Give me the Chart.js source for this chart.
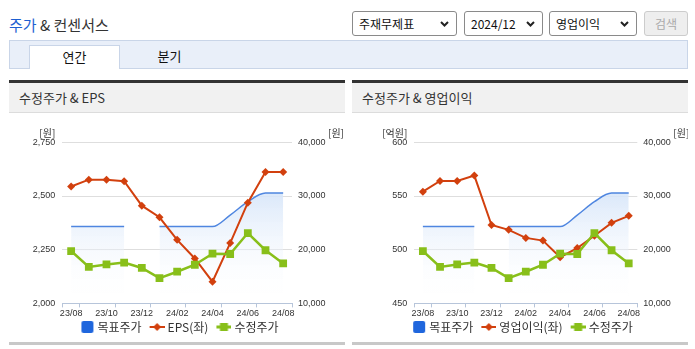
<!DOCTYPE html>
<html>
<head>
<meta charset="utf-8">
<script src="https://cdn.jsdelivr.net/npm/chart.js@4"></script>
<style>
  body { margin: 0; background: #fff; width: 695px; height: 349px; position: relative; overflow: hidden;
         font-family: "Noto Sans CJK KR", "Noto Sans", sans-serif; color: #333; }
  .abs { position: absolute; }
  #title { left: 9px; top: 14px; font-size: 15px; line-height: 22px; color: #333; }
  #title b { font-weight: normal; color: #1d5fd1; }
  .sel { position: absolute; top: 11px; height: 25px; box-sizing: border-box; border: 1px solid #8a8a8a;
         border-radius: 3px; background: #fff; font-size: 12px; line-height: 23px; padding-left: 6px; color: #111; }
  .sel svg { position: absolute; right: 7px; top: 9px; }
  #btn { left: 644px; top: 11px; width: 44px; height: 25px; box-sizing: border-box; border: 1px solid #ccc;
         border-radius: 3px; background: #eee; color: #aaa; font-size: 12px; line-height: 23px; text-align: center; }
  #tabbar { left: 9px; top: 40px; width: 679px; height: 29px; box-sizing: border-box; background: #e9eff9;
            border: 1px solid #c9d5e8; }
  #tab1 { left: 29px; top: 45px; width: 91px; height: 24px; box-sizing: border-box; background: #fff;
          border: 1px solid #c9d5e8; border-bottom: none; font-size: 13px; line-height: 22px; text-align: center; color: #111; }
  #tab2 { left: 124px; top: 45px; width: 91px; height: 24px; font-size: 13px; line-height: 22px; text-align: center; color: #111; }
  .panel { position: absolute; top: 80px; width: 336px; height: 266px; }
  .phead { position: absolute; left: 0; top: 0; width: 100%; height: 33px; box-sizing: border-box;
           border-top: 3px solid #333; background: #f1f1f1; border-bottom: 1px solid #dcdcdc;
           font-size: 13px; line-height: 29px; padding-left: 10px; color: #333; }
  .pfoot { position: absolute; left: 0; top: 262px; width: 100%; height: 3px; background: #c8c8c8; }
  .panel canvas { position: absolute; left: 0; top: 33px; }
</style>
</head>
<body>
<div id="title" class="abs"><b>주가</b> &amp; 컨센서스</div>

<div class="sel" style="left:352px;width:105px">주재무제표<svg width="9" height="6"><polyline points="1,1 4.5,4.5 8,1" fill="none" stroke="#222" stroke-width="2"/></svg></div>
<div class="sel" style="left:464px;width:79px">2024/12<svg width="9" height="6"><polyline points="1,1 4.5,4.5 8,1" fill="none" stroke="#222" stroke-width="2"/></svg></div>
<div class="sel" style="left:549px;width:88px">영업이익<svg width="9" height="6"><polyline points="1,1 4.5,4.5 8,1" fill="none" stroke="#222" stroke-width="2"/></svg></div>
<div id="btn" class="abs">검색</div>

<div id="tabbar" class="abs"></div>
<div id="tab1" class="abs">연간</div>
<div id="tab2" class="abs">분기</div>

<div class="panel" style="left:9px">
  <div class="phead">수정주가 &amp; EPS</div>
  <canvas id="chartEps" width="336" height="230"></canvas>
  <div class="pfoot"></div>
</div>
<div class="panel" style="left:352px">
  <div class="phead">수정주가 &amp; 영업이익</div>
  <canvas id="chartOp" width="336" height="230"></canvas>
  <div class="pfoot"></div>
</div>

<script>
// data
const months = ['23/08', '23/09', '23/10', '23/11', '23/12', '24/01', '24/02', '24/03', '24/04', '24/05', '24/06', '24/07', '24/08']
const targetPrice = [24300, 24300, 24300, 24300, null, 24300, 24300, 24300, 24300, 26450, 28950, 30550, 30550]
const adjPrice = [19750, 16800, 17250, 17600, 16600, 14700, 15900, 17200, 19250, 19200, 23100, 19900, 17450]
const eps = [2544, 2576, 2576, 2569, 2455, 2401, 2296, 2209, 2101, 2281, 2469, 2612, 2612]
const opIncome = [554, 564, 564, 569, 523, 518.5, 511, 508.5, 493, 501.5, 513, 525, 531.5]
const epsTicks = [2000, 2250, 2500, 2750]
const opTicks = [450, 500, 550, 600]
const priceTicks = [10000, 20000, 30000, 40000]

const BLUE = '#4f86e0'
const RED = '#d2400e'
const GREEN = '#88bf1a'

Chart.defaults.font.family = '"Liberation Sans", "Noto Sans CJK KR", sans-serif'
Chart.defaults.color = '#333'

// legend icons (drawn a bit to the right inside a wider canvas)
function icon(kind) {
    const c = document.createElement('canvas')
    c.width = 22
    c.height = 12
    const g = c.getContext('2d')
    if (kind === 'box') {
        g.fillStyle = '#1f66dd'
        g.beginPath()
        g.roundRect(9, 0, 12, 12, 2)
        g.fill()
    } else if (kind === 'diamond') {
        g.fillStyle = RED
        g.fillRect(7, 5, 15, 2)
        g.beginPath()
        g.moveTo(14.5, 2); g.lineTo(18.5, 6); g.lineTo(14.5, 10); g.lineTo(10.5, 6)
        g.fill()
    } else {
        g.fillStyle = GREEN
        g.fillRect(7, 4.5, 15, 3)
        g.fillRect(10.5, 2, 8, 8)
    }
    return c
}
const icons = [icon('box'), icon('diamond'), icon('square')]

// "[원]" unit labels above the axes
const unitLabels = {
    id: 'unitLabels',
    afterDraw(chart, args, opts) {
        const { ctx, chartArea: a } = chart
        ctx.save()
        ctx.font = '10px "Noto Sans CJK KR"'
        ctx.fillStyle = '#333'
        ctx.textBaseline = 'middle'
        ctx.textAlign = 'right'
        ctx.fillText(opts.left, a.left - 7, a.top - 9)
        ctx.textAlign = 'left'
        ctx.fillText(opts.right, a.right + 36, a.top - 9)
        ctx.restore()
    }
}

function makeChart(id, leftData, leftName, leftTicks, leftUnit, leftWidth, rightWidth) {
    new Chart(document.getElementById(id), {
        type: 'line',
        data: {
            labels: months,
            datasets: [
                {
                    label: '목표주가',
                    data: targetPrice,
                    yAxisID: 'yR',
                    order: 3,
                    borderColor: BLUE,
                    borderWidth: 1.5,
                    pointRadius: 0,
                    cubicInterpolationMode: 'monotone',
                    spanGaps: false,
                    fill: 'start',
                    backgroundColor: (ctx) => {
                        const a = ctx.chart.chartArea
                        if (!a) return 'rgba(220,233,248,0.8)'
                        const gr = ctx.chart.ctx.createLinearGradient(0, a.top + 50, 0, a.bottom)
                        gr.addColorStop(0, 'rgba(214,229,249,0.9)')
                        gr.addColorStop(1, 'rgba(255,255,255,0)')
                        return gr
                    }
                },
                {
                    label: leftName,
                    data: leftData,
                    yAxisID: 'yL',
                    order: 2,
                    borderColor: RED,
                    backgroundColor: RED,
                    borderWidth: 2,
                    pointStyle: 'rectRot',
                    pointRadius: 4,
                    pointBorderWidth: 0,
                    tension: 0
                },
                {
                    label: '수정주가',
                    data: adjPrice,
                    yAxisID: 'yR',
                    order: 1,
                    borderColor: GREEN,
                    backgroundColor: GREEN,
                    borderWidth: 2.5,
                    pointStyle: 'rect',
                    pointRadius: 5.5,
                    pointBorderWidth: 0,
                    tension: 0
                }
            ]
        },
        options: {
            responsive: false,
            animation: false,
            layout: { padding: { top: 29.3, left: 0, right: 0, bottom: 0 } },
            scales: {
                x: {
                    offset: true,
                    grid: {
                        offset: true,
                        drawOnChartArea: false,
                        tickLength: 4,
                        tickColor: (ctx) => (ctx.index === undefined || ctx.index === 0 || ctx.index % 2 === 1) ? '#b7c5da' : 'rgba(0,0,0,0)'
                    },
                    border: { color: '#b7c5da' },
                    ticks: {
                        autoSkip: false,
                        maxRotation: 0,
                        padding: 1,
                        font: { size: 9 },
                        callback: function (v, i) { return i % 2 ? '' : this.getLabelForValue(v) }
                    },
                    afterFit: (s) => { s.height = 13.6 }
                },
                yL: {
                    position: 'left',
                    min: leftTicks[0],
                    max: leftTicks[leftTicks.length - 1],
                    afterBuildTicks: (s) => { s.ticks = leftTicks.map(v => ({ value: v })) },
                    grid: { color: '#dedede', drawTicks: false },
                    border: { display: false },
                    ticks: { padding: 7, font: { size: 9 } },
                    afterFit: (s) => { s.width = leftWidth }
                },
                yR: {
                    position: 'right',
                    min: priceTicks[0],
                    max: priceTicks[priceTicks.length - 1],
                    afterBuildTicks: (s) => { s.ticks = priceTicks.map(v => ({ value: v })) },
                    grid: { drawOnChartArea: false, drawTicks: false },
                    border: { display: false },
                    ticks: { padding: 6, font: { size: 9 } },
                    afterFit: (s) => { s.width = rightWidth }
                }
            },
            plugins: {
                legend: {
                    position: 'bottom',
                    labels: {
                        usePointStyle: true,
                        pointStyleWidth: 16,
                        padding: 4,
                        color: '#333',
                        font: { size: 12, family: '"Noto Sans CJK KR"' },
                        sort: (a, b) => a.datasetIndex - b.datasetIndex,
                        generateLabels: (chart) => Chart.defaults.plugins.legend.labels.generateLabels(chart)
                            .map(l => ({ ...l, pointStyle: icons[l.datasetIndex] }))
                    }
                },
                tooltip: { enabled: false },
                unitLabels: { left: leftUnit, right: '[원]' }
            }
        },
        plugins: [unitLabels]
    })
}

makeChart('chartEps', eps, 'EPS(좌)', epsTicks, '[원]', 53.3, 53)
makeChart('chartOp', opIncome, '영업이익(좌)', opTicks, '[억원]', 62.3, 50.7)
</script>
</body>
</html>
